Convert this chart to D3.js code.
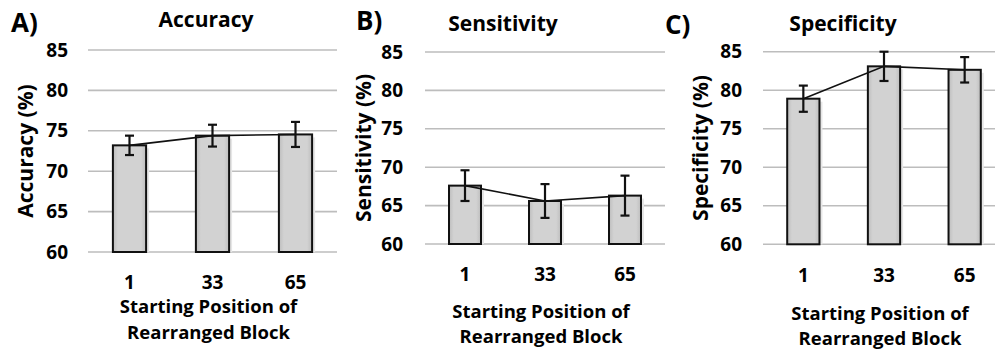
<!DOCTYPE html>
<html>
<head>
<meta charset="utf-8">
<script src="https://cdn.jsdelivr.net/npm/d3@7"></script>
<style>
  body { margin: 0; background: #fff; }
  svg text { font-family: "Open Sans", sans-serif; font-weight: bold; fill: #000; }
  .grid line { stroke: #bdbdbd; stroke-width: 1.6; }
</style>
</head>
<body>
<div id="chart"></div>
<script>
// categories (starting position of rearranged block)
var categories = ["1", "33", "65"];
var yTicks = [60, 65, 70, 75, 80, 85];

// series values (%) and error bars
var accuracy = [73.2, 74.4, 74.55];
var accuracyErr = [1.2, 1.35, 1.55];
var sensitivity = [67.6, 65.6, 66.3];
var sensitivityErr = [2.0, 2.2, 2.6];
var specificity = [78.9, 83.1, 82.65];
var specificityErr = [1.7, 1.9, 1.65];

var panelLetters = ["A)", "B)", "C)"];
var panelTitles = ["Accuracy", "Sensitivity", "Specificity"];
var yTitles = ["Accuracy (%)", "Sensitivity (%)", "Specificity (%)"];
var xTitle = ["Starting Position of", "Rearranged Block"];

var series = [
  { values: accuracy, err: accuracyErr },
  { values: sensitivity, err: sensitivityErr },
  { values: specificity, err: specificityErr }
];

// layout of each panel on the page
var layout = [
  { x0: 88, x1: 337, yTop: 50, yBot: 252, tickX: 68, yTitleX: 33, titleX: 206, titleY: 27,
    letterX: 11, letterY: 32, catY: 289, xt1: 313, xt2: 339 },
  { x0: 425, x1: 665, yTop: 52, yBot: 244, tickX: 403, yTitleX: 371, titleX: 503, titleY: 31,
    letterX: 356, letterY: 30, catY: 281, xt1: 318, xt2: 343 },
  { x0: 763, x1: 1005, yTop: 51.7, yBot: 244.3, tickX: 742, yTitleX: 708, titleX: 843, titleY: 31,
    letterX: 665, letterY: 34, catY: 282, xt1: 320, xt2: 345 }
];

var svg = d3.select("#chart")
  .append("svg")
  .attr("width", 995)
  .attr("height", 352)

var defs = svg.append("defs")
var grad = defs.append("linearGradient")
  .attr("id", "barFill")
  .attr("x1", "0").attr("x2", "1").attr("y1", "0").attr("y2", "0")
grad.append("stop").attr("offset", "0%").attr("stop-color", "#bdbdbd")
grad.append("stop").attr("offset", "15%").attr("stop-color", "#d2d2d2")
grad.append("stop").attr("offset", "85%").attr("stop-color", "#d2d2d2")
grad.append("stop").attr("offset", "100%").attr("stop-color", "#bdbdbd")

series.forEach(function (s, i) {
  var L = layout[i]
  var g = svg.append("g")

  var x = d3.scaleBand()
    .domain(categories)
    .range([L.x0, L.x1])
    .paddingInner(0.6)
    .paddingOuter(0.3)

  var y = d3.scaleLinear()
    .domain([60, 85])
    .range([L.yBot, L.yTop])

  // gridlines
  g.append("g")
    .attr("class", "grid")
    .selectAll("line")
    .data(yTicks)
    .join("line")
    .attr("x1", L.x0).attr("x2", L.x1)
    .attr("y1", function (d) { return y(d) })
    .attr("y2", function (d) { return y(d) })

  // y tick labels
  g.selectAll(".ytick")
    .data(yTicks)
    .join("text")
    .attr("class", "ytick")
    .attr("x", L.tickX)
    .attr("y", function (d) { return y(d) + 6.5 })
    .attr("text-anchor", "end")
    .style("font-size", "19px")
    .text(function (d) { return d })

  var rows = categories.map(function (c, j) {
    return { cat: c, v: s.values[j], e: s.err[j] }
  })

  // bar shadow
  g.selectAll(".shadow")
    .data(rows)
    .join("rect")
    .attr("x", function (d) { return x(d.cat) + 3 })
    .attr("y", function (d) { return y(d.v) + 3 })
    .attr("width", x.bandwidth())
    .attr("height", function (d) { return y(60) - y(d.v) - 3 })
    .attr("fill", "#e6e6e6")

  // bars
  g.selectAll(".bar")
    .data(rows)
    .join("rect")
    .attr("class", "bar")
    .attr("x", function (d) { return x(d.cat) })
    .attr("y", function (d) { return y(d.v) })
    .attr("width", x.bandwidth())
    .attr("height", function (d) { return y(60) - y(d.v) })
    .attr("fill", "url(#barFill)")
    .attr("stroke", "#111")
    .attr("stroke-width", 2)

  // line through bar tops
  var line = d3.line()
    .x(function (d) { return x(d.cat) + x.bandwidth() / 2 })
    .y(function (d) { return y(d.v) })
  g.append("path")
    .datum(rows)
    .attr("d", line)
    .attr("fill", "none")
    .attr("stroke", "#111")
    .attr("stroke-width", 1.6)

  // error bars
  var eb = g.selectAll(".err")
    .data(rows)
    .join("g")
    .attr("class", "err")
    .attr("stroke", "#111")
    .attr("stroke-width", 2.2)
  eb.append("line")
    .attr("x1", function (d) { return x(d.cat) + x.bandwidth() / 2 })
    .attr("x2", function (d) { return x(d.cat) + x.bandwidth() / 2 })
    .attr("y1", function (d) { return y(d.v + d.e) })
    .attr("y2", function (d) { return y(d.v - d.e) })
  eb.selectAll(".cap")
    .data(function (d) { return [d.v + d.e, d.v - d.e].map(function (v) { return { cat: d.cat, v: v } }) })
    .join("line")
    .attr("x1", function (d) { return x(d.cat) + x.bandwidth() / 2 - 4.5 })
    .attr("x2", function (d) { return x(d.cat) + x.bandwidth() / 2 + 4.5 })
    .attr("y1", function (d) { return y(d.v) })
    .attr("y2", function (d) { return y(d.v) })

  // category labels
  g.selectAll(".xtick")
    .data(categories)
    .join("text")
    .attr("x", function (d) { return x(d) + x.bandwidth() / 2 })
    .attr("y", L.catY)
    .attr("text-anchor", "middle")
    .style("font-size", "19px")
    .text(function (d) { return d })

  // x axis title
  var xc = (L.x0 + L.x1) / 2 - 4
  g.append("text").attr("x", xc).attr("y", L.xt1).attr("text-anchor", "middle")
    .style("font-size", "18.5px").text(xTitle[0])
  g.append("text").attr("x", xc).attr("y", L.xt2).attr("text-anchor", "middle")
    .style("font-size", "18.5px").text(xTitle[1])

  // y axis title
  g.append("text")
    .attr("transform", "translate(" + L.yTitleX + "," + ((L.yTop + L.yBot) / 2) + ") rotate(-90)")
    .attr("text-anchor", "middle")
    .style("font-size", "21px")
    .text(yTitles[i])

  // panel title and letter
  g.append("text").attr("x", L.titleX).attr("y", L.titleY).attr("text-anchor", "middle")
    .style("font-size", "21px").text(panelTitles[i])
  g.append("text").attr("x", L.letterX).attr("y", L.letterY)
    .style("font-size", "26px").text(panelLetters[i])
})
</script>
</body>
</html>
